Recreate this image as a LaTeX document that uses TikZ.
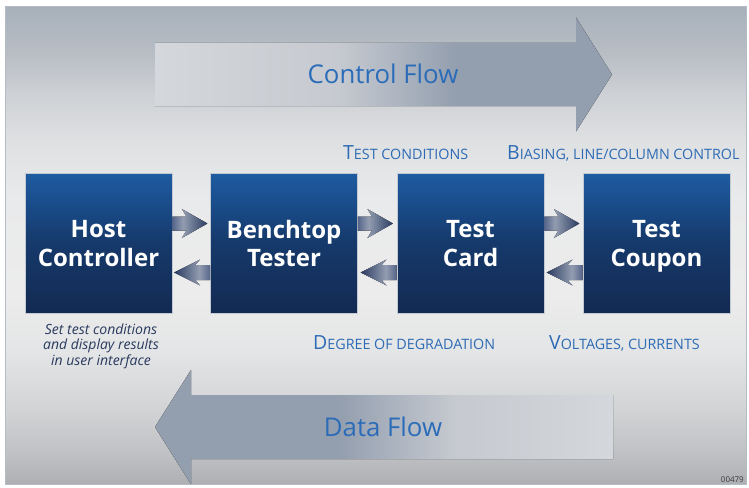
\documentclass[tikz,border=0pt]{standalone}
\usepackage{fontspec}
\setmainfont{Open Sans}
\usetikzlibrary{calc}

% palette
\definecolor{bgA}{HTML}{A7B0BA}
\definecolor{bgB}{HTML}{B9BEC5}
\definecolor{bgC}{HTML}{CDD0D4}
\definecolor{bgD}{HTML}{DFE0E2}
\definecolor{bgE}{HTML}{E9EAEB}
\definecolor{bgF}{HTML}{ECECEC}
\definecolor{bgG}{HTML}{E4E5E6}
\definecolor{bgH}{HTML}{D3D4D6}
\definecolor{bgI}{HTML}{BFC0C3}
\definecolor{bgJ}{HTML}{ADAFB2}
\definecolor{frameline}{HTML}{B4BBC4}
\definecolor{flowdark}{HTML}{939EAE}
\definecolor{flowmid}{HTML}{ABB3BF}
\definecolor{flowsoft}{HTML}{C6CAD0}
\definecolor{flowlight}{HTML}{D4D7DB}
\definecolor{boxtop}{HTML}{1E5CA1}
\definecolor{boxupper}{HTML}{1A4E8D}
\definecolor{boxmid}{HTML}{163A6C}
\definecolor{boxbot}{HTML}{132A52}
\definecolor{boxedge}{HTML}{C3C9D2}
\definecolor{arrmid}{HTML}{56658A}
\definecolor{arrlight}{HTML}{939DB1}
\definecolor{arrdark}{HTML}{2A3B61}
\definecolor{flowtext}{HTML}{2B6CB9}
\definecolor{lbltext}{HTML}{2D6BB5}
\definecolor{notetext}{HTML}{293A5E}
\definecolor{idtext}{HTML}{3A3A3A}

% background, from bottom (0bp) to top (100bp)
\pgfdeclareverticalshading{bgshade}{100bp}{%
  color(0bp)=(bgJ); color(25bp)=(bgJ); color(28bp)=(bgI); color(33bp)=(bgH);
  color(39bp)=(bgG); color(45bp)=(bgF); color(55bp)=(bgE); color(61bp)=(bgD);
  color(66bp)=(bgC); color(70bp)=(bgB); color(75bp)=(bgA); color(100bp)=(bgA)}
% boxes
\pgfdeclareverticalshading{boxshade}{100bp}{%
  color(0bp)=(boxbot); color(25bp)=(boxbot); color(51bp)=(boxmid);
  color(65bp)=(boxupper); color(75bp)=(boxtop); color(100bp)=(boxtop)}
% wide flow arrows
\pgfdeclarehorizontalshading{ctrlshade}{100bp}{%
  color(0bp)=(flowlight); color(25bp)=(flowlight); color(45bp)=(flowsoft);
  color(52bp)=(flowmid); color(58bp)=(flowdark); color(100bp)=(flowdark)}
\pgfdeclarehorizontalshading{datashade}{100bp}{%
  color(0bp)=(flowdark); color(45bp)=(flowdark); color(51bp)=(flowmid);
  color(58bp)=(flowsoft); color(75bp)=(flowlight); color(100bp)=(flowlight)}
% short link arrows
\pgfdeclarehorizontalshading{fwdshade}{100bp}{%
  color(0bp)=(arrmid); color(25bp)=(arrmid); color(40bp)=(arrlight);
  color(75bp)=(arrdark); color(100bp)=(arrdark)}
\pgfdeclarehorizontalshading{backshade}{100bp}{%
  color(0bp)=(arrdark); color(25bp)=(arrdark); color(60bp)=(arrlight);
  color(75bp)=(arrmid); color(100bp)=(arrmid)}

\newcommand{\capsl}[2]{{\fontsize{19.5}{19.5}\selectfont #1}{\fontsize{14.3}{14.3}\selectfont #2}}

\tikzset{
  unitbox/.style={shading=boxshade, draw=boxedge, line width=0.8pt,
    minimum width=147pt, minimum height=140pt, inner sep=0pt},
  unitname/.style={text=white, align=center, inner sep=0pt,
    font=\fontsize{24}{28.5}\selectfont\bfseries},
  flowlabel/.style={text=flowtext, font=\fontsize{25.8}{25.8}\selectfont, inner sep=0pt},
  linklabel/.style={text=lbltext, anchor=base west, inner sep=0pt},
  pics/fwdarrow/.style={code={
    \fill[shading=fwdshade]
      (0,-7) -- (14,-7) -- (9.5,-14.5) -- (35,0) -- (9.5,14.5)
      -- (14,7) -- (0,7) -- cycle;}},
  pics/backarrow/.style={code={
    \fill[shading=backshade]
      (0,-7.5) -- (-15,-7.5) -- (-10,-13) -- (-36,0) -- (-10,13)
      -- (-15,7.5) -- (0,7.5) -- cycle;}},
}

\begin{document}
\begin{tikzpicture}[x=1pt, y=-1pt]
  \useasboundingbox (0,0) rectangle (749,487);

  % panel
  \coordinate (pnw) at (5,7);
  \coordinate (pse) at (746,484);
  \shade[shading=bgshade] (pnw) rectangle (pse);

  % large flow arrows
  \begin{scope}
    \clip (pnw) rectangle (pse);
    \fill[shading=ctrlshade] (155,43) -- (576,43) -- (576,17.5) -- (612,74.5)
      -- (576,131.5) -- (576,106) -- (155,106) -- cycle;
    \fill[shading=datashade] (613,395) -- (191,395) -- (191,370) -- (155,427)
      -- (191,484) -- (191,459) -- (613,459) -- cycle;
  \end{scope}
  \draw[frameline, line width=1pt] (pnw) rectangle (pse);

  \node[flowlabel] (ctrl) at (383,74) {Control Flow};
  \node[flowlabel] (data) at (383,427) {Data Flow};

  % units
  \node[unitbox] (host)   at (98.5,243)  {};
  \node[unitbox] (bench)  at (284,243)   {};
  \node[unitbox] (card)   at (470.5,243) {};
  \node[unitbox] (coupon) at (656.5,243) {};
  \node[unitname] (hostname)   at ($(host.center)+(0,4.5)$)   {Host\\Controller\strut};
  \node[unitname] (benchname)  at ($(bench.center)+(0,4.5)$)  {Benchtop\\Tester\strut};
  \node[unitname] (cardname)   at ($(card.center)+(0,4.5)$)   {Test\\Card\strut};
  \node[unitname] (couponname) at ($(coupon.center)+(0,4.5)$) {Test\\Coupon\strut};

  % links between units
  \pic at ($(host.east)+(0,-19.5)$)   {fwdarrow};
  \pic at ($(bench.west)+(0,29.5)$)   {backarrow};
  \pic at ($(bench.east)+(0,-19.5)$)  {fwdarrow};
  \pic at ($(card.west)+(0,29.5)$)    {backarrow};
  \pic at ($(card.east)+(0,-19.5)$)   {fwdarrow};
  \pic at ($(coupon.west)+(0,29.5)$)  {backarrow};

  % link descriptions
  \node[linklabel] (tc)  at (343,159) {\capsl{T}{EST CONDITIONS}};
  \node[linklabel] (bl)  at (507,159) {\capsl{B}{IASING, LINE/COLUMN CONTROL}};
  \node[linklabel] (dd)  at (313,349) {\capsl{D}{EGREE OF DEGRADATION}};
  \node[linklabel] (vc)  at (549,349) {\capsl{V}{OLTAGES, CURRENTS}};

  % note under host
  \node[text=notetext, align=center, inner sep=0pt,
        font=\fontsize{14}{15.5}\selectfont\itshape] (note) at (101,346)
        {Set test conditions\\and display results\\in user interface};

  \node[text=idtext, anchor=base east, inner sep=0pt,
        font=\fontsize{8}{8}\selectfont] (id) at (744,482) {00479};
\end{tikzpicture}
\end{document}
